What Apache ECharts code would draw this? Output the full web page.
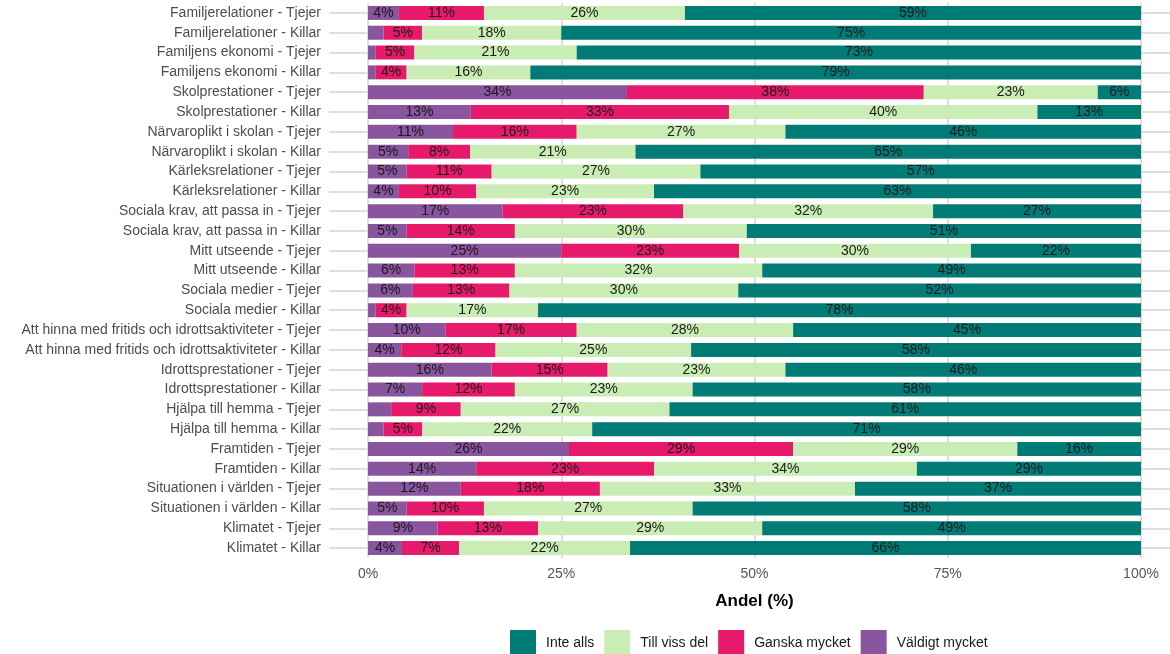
<!DOCTYPE html>
<html>

<head>
    <meta charset="utf-8">
    <title>ECharts</title>
    <script src="https://cdn.jsdelivr.net/npm/echarts@6/dist/echarts.min.js"></script>
    <style>
        html, body { margin: 0; padding: 0; background: #fff; }
    </style>
</head>

<body>
    <div id="main" style="width: 1170px;height:654px;"></div>
    <script type="text/javascript">
        var categories = [
            'Familjerelationer - Tjejer', 'Familjerelationer - Killar',
            'Familjens ekonomi - Tjejer', 'Familjens ekonomi - Killar',
            'Skolprestationer - Tjejer', 'Skolprestationer - Killar',
            'Närvaroplikt i skolan - Tjejer', 'Närvaroplikt i skolan - Killar',
            'Kärleksrelationer - Tjejer', 'Kärleksrelationer - Killar',
            'Sociala krav, att passa in - Tjejer', 'Sociala krav, att passa in - Killar',
            'Mitt utseende - Tjejer', 'Mitt utseende - Killar',
            'Sociala medier - Tjejer', 'Sociala medier - Killar',
            'Att hinna med fritids och idrottsaktiviteter - Tjejer', 'Att hinna med fritids och idrottsaktiviteter - Killar',
            'Idrottsprestationer - Tjejer', 'Idrottsprestationer - Killar',
            'Hjälpa till hemma - Tjejer', 'Hjälpa till hemma - Killar',
            'Framtiden - Tjejer', 'Framtiden - Killar',
            'Situationen i världen - Tjejer', 'Situationen i världen - Killar',
            'Klimatet - Tjejer', 'Klimatet - Killar'
        ];

        // andel (%) per kategori, samma ordning som categories
        var valdigtMycket = [4, 2, 1, 1, 33.5, 13.3, 11, 5.2, 5, 4, 17.4, 5, 25, 6, 5.8, 1, 10, 4.3, 16, 7, 3, 2, 26, 14, 12, 5, 9, 4.4];
        var ganskaMycket = [11, 5, 5, 4, 38.4, 33.4, 16, 8.0, 11, 10, 23.4, 14, 23, 13, 12.5, 4, 17, 12.2, 15, 12, 9, 5, 29, 23, 18, 10, 13, 7.4];
        var tillVissDel = [26, 18, 21, 16, 22.5, 39.9, 27, 21.4, 27, 23, 32.3, 30, 30, 32, 29.6, 17, 28, 25.3, 23, 23, 27, 22, 29, 34, 33, 27, 29, 22.1];
        var inteAlls = [59, 75, 73, 79, 5.6, 13.4, 46, 65.4, 57, 63, 26.9, 51, 22, 49, 52.1, 78, 45, 58.2, 46, 58, 61, 71, 16, 29, 37, 58, 49, 66.1];

        var xTicks = [0, 25, 50, 75, 100];
        var legendOrder = ['Inte alls', 'Till viss del', 'Ganska mycket', 'Väldigt mycket'];

        var myChart = echarts.init(document.getElementById('main'));

        var font = 'Liberation Sans, Arial, sans-serif';
        var gridColor = '#d4d4d4';

        function barSeries(name, data, color) {
            return {
                name: name,
                type: 'bar',
                stack: 'total',
                barWidth: 14,
                data: data,
                itemStyle: { color: color },
                label: {
                    show: true,
                    position: 'inside',
                    color: '#1a1a1a',
                    fontFamily: font,
                    fontSize: 14,
                    formatter: function (p) {
                        return p.value >= 3.5 ? Math.round(p.value) + '%' : '';
                    }
                },
                emphasis: { disabled: true }
            };
        }

        var option = {
            animation: false,
            backgroundColor: '#fff',
            grid: {
                left: 368,
                right: 29,
                top: 3,
                bottom: 96,
                containLabel: false
            },
            legend: {
                data: legendOrder,
                top: 630,
                left: 510,
                padding: 0,
                icon: 'rect',
                itemWidth: 26,
                itemHeight: 26,
                itemGap: 10,
                textStyle: {
                    fontFamily: font,
                    fontSize: 14,
                    color: '#1a1a1a',
                    padding: [0, 0, 0, 5]
                }
            },
            xAxis: {
                type: 'value',
                min: 0,
                max: 100,
                interval: 25,
                name: 'Andel (%)',
                nameLocation: 'middle',
                nameGap: 35,
                nameTextStyle: {
                    fontFamily: font,
                    fontSize: 17,
                    fontWeight: 'bold',
                    color: '#000'
                },
                axisLine: { show: false },
                axisTick: { show: false },
                axisLabel: {
                    margin: 9,
                    fontFamily: font,
                    fontSize: 14,
                    color: '#555',
                    formatter: function (v) {
                        return xTicks.indexOf(v) >= 0 ? v + '%' : '';
                    }
                },
                splitLine: {
                    show: true,
                    lineStyle: { color: gridColor, width: 1.5 }
                }
            },
            yAxis: [{
                type: 'category',
                inverse: true,
                data: categories,
                axisLine: { show: false },
                axisTick: {
                    show: true,
                    alignWithLabel: true,
                    length: 39,
                    lineStyle: { color: gridColor, width: 1.5 }
                },
                axisLabel: {
                    margin: 47,
                    fontFamily: font,
                    fontSize: 14,
                    color: '#4d4d4d'
                },
                splitLine: { show: false }
            }, {
                // bara för gridlinjerna till höger om 100%
                type: 'category',
                position: 'right',
                inverse: true,
                data: categories,
                axisLine: { show: false },
                axisTick: {
                    show: true,
                    alignWithLabel: true,
                    length: 30,
                    lineStyle: { color: gridColor, width: 1.5 }
                },
                axisLabel: { show: false },
                splitLine: { show: false }
            }],
            series: [
                barSeries('Väldigt mycket', valdigtMycket, '#88559e'),
                barSeries('Ganska mycket', ganskaMycket, '#e6196a'),
                barSeries('Till viss del', tillVissDel, '#c9edb4'),
                barSeries('Inte alls', inteAlls, '#007b76')
            ]
        };

        myChart.setOption(option);
    </script>
</body>

</html>
